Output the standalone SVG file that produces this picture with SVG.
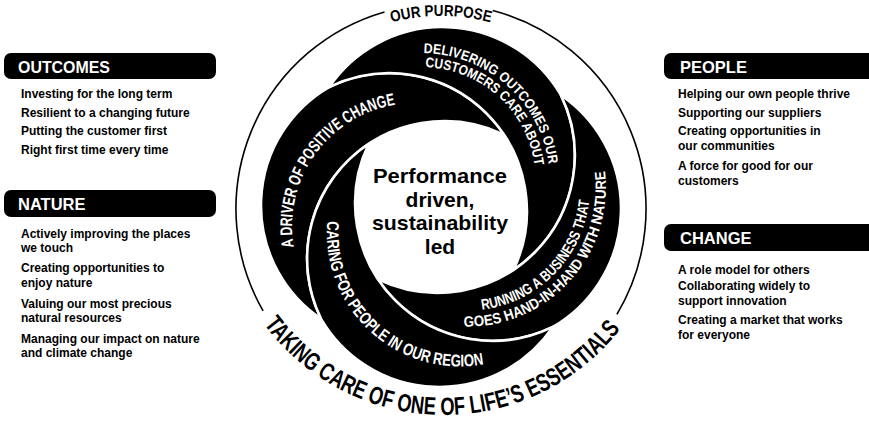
<svg xmlns="http://www.w3.org/2000/svg" xmlns:xlink="http://www.w3.org/1999/xlink" width="869" height="421" viewBox="0 0 869 421">
  <style>
    .arm { fill: #000; stroke: #fff; stroke-width: 2.6; stroke-linejoin: round; }
    .band { font-family: "Liberation Sans", Arial, sans-serif; font-weight: 700; fill: #fff; }
    .ring { fill: none; stroke: #000; stroke-width: 1.6; }
    .ringtext { font-family: "Liberation Sans", Arial, sans-serif; font-weight: 700; fill: #000; }
    .bar { fill: #000; }
    .head { font-family: "Liberation Sans", Arial, sans-serif; font-weight: 700; font-size: 16.5px; fill: #fff; }
    .item { font-family: "Liberation Sans", Arial, sans-serif; font-weight: 700; font-size: 12px; fill: #000; }
    .core { font-family: "Liberation Sans", Arial, sans-serif; font-weight: 700; font-size: 21px; fill: #000; text-anchor: middle; }
  </style>
  <defs>
    <!-- one swirl arm in local polar frame: tail on +x axis, head 174deg further clockwise -->
    <path id="arm-shape" d="M 164 0 A 137 137 0 0 1 0 164 A 137.5 137.5 0 0 1 -95.47 10.03 A 137.5 137.5 0 0 0 164 0 Z"/>
    <!-- baselines inside an arm (local frame) -->
    <path id="tp-change" d="M 136 69.3 A 122.8 122.8 0 0 1 -38.07 104.6"/>
    <path id="tp-outcomes-1" d="M 125.44 91.14 A 127.8 127.8 0 0 1 -43.25 107.04"/>
    <path id="tp-outcomes-2" d="M 114.01 82.84 A 113.8 113.8 0 0 1 -34.88 95.83"/>
    <path id="tp-nature-1" d="M -41.31 102.26 A 122.8 122.8 0 0 0 113.81 95.51"/>
    <path id="tp-nature-2" d="M -66.14 101.86 A 138.8 138.8 0 0 0 145.43 83.97"/>
    <path id="tp-people" d="M -68.65 91.1 A 133.3 133.3 0 0 0 145.39 74.08"/>
    <!-- outer ring captions -->
    <path id="tp-purpose" d="M 381.4 25.4 A 193 193 0 0 1 500.6 25.4"/>
    <path id="tp-essentials" d="M 262.8 322.7 A 224 224 0 0 0 621.7 327.4"/>
  </defs>

  <!-- outer ring with captions -->
  <g id="purpose-ring">
    <path class="ring" d="M 492.7 10.6 A 205 205 0 0 1 616.9 314.3"/>
    <path class="ring" d="M 263.1 310.9 A 205 205 0 0 1 384.5 11.9"/>
    <text class="ringtext" font-size="16"><textPath xlink:href="#tp-purpose" href="#tp-purpose" startOffset="50%" text-anchor="middle" textLength="100" lengthAdjust="spacingAndGlyphs">OUR PURPOSE</textPath></text>
    <text class="ringtext" font-size="25"><textPath xlink:href="#tp-essentials" href="#tp-essentials" startOffset="50%" text-anchor="middle" textLength="412" lengthAdjust="spacingAndGlyphs">TAKING CARE OF ONE OF LIFE’S ESSENTIALS</textPath></text>
  </g>

  <!-- four swirl arms around the core -->
  <g id="swirl" transform="translate(441 207)">
    <g id="arm-positive-change" transform="rotate(137)">
      <use xlink:href="#arm-shape" href="#arm-shape" class="arm"/>
      <text class="band" font-size="17"><textPath xlink:href="#tp-change" href="#tp-change" startOffset="50%" text-anchor="middle" textLength="194" lengthAdjust="spacingAndGlyphs">A DRIVER OF POSITIVE CHANGE</textPath></text>
    </g>
    <g id="arm-outcomes" transform="rotate(227)">
      <use xlink:href="#arm-shape" href="#arm-shape" class="arm"/>
      <text class="band" font-size="14"><textPath xlink:href="#tp-outcomes-1" href="#tp-outcomes-1" startOffset="50%" text-anchor="middle" textLength="182" lengthAdjust="spacingAndGlyphs">DELIVERING OUTCOMES OUR</textPath></text>
      <text class="band" font-size="14"><textPath xlink:href="#tp-outcomes-2" href="#tp-outcomes-2" startOffset="50%" text-anchor="middle" textLength="160" lengthAdjust="spacingAndGlyphs">CUSTOMERS CARE ABOUT</textPath></text>
    </g>
    <g id="arm-nature" transform="rotate(317)">
      <use xlink:href="#arm-shape" href="#arm-shape" class="arm"/>
      <text class="band" font-size="15"><textPath xlink:href="#tp-nature-1" href="#tp-nature-1" startOffset="50%" text-anchor="middle" textLength="165" lengthAdjust="spacingAndGlyphs">RUNNING A BUSINESS THAT</textPath></text>
      <text class="band" font-size="15"><textPath xlink:href="#tp-nature-2" href="#tp-nature-2" startOffset="50%" text-anchor="middle" textLength="238" lengthAdjust="spacingAndGlyphs">GOES HAND-IN-HAND WITH NATURE</textPath></text>
    </g>
    <g id="arm-people" transform="rotate(47)">
      <use xlink:href="#arm-shape" href="#arm-shape" class="arm"/>
      <text class="band" font-size="17"><textPath xlink:href="#tp-people" href="#tp-people" startOffset="50%" text-anchor="middle" textLength="245" lengthAdjust="spacingAndGlyphs">CARING FOR PEOPLE IN OUR REGION</textPath></text>
    </g>
  </g>

  <!-- core statement -->
  <g id="core">
    <text class="core" x="440" y="183" textLength="134" lengthAdjust="spacingAndGlyphs">Performance</text>
    <text class="core" x="440" y="206.5">driven,</text>
    <text class="core" x="440" y="230" textLength="136" lengthAdjust="spacingAndGlyphs">sustainability</text>
    <text class="core" x="440" y="253.5">led</text>
  </g>

  <!-- left column -->
  <g id="panel-outcomes">
    <rect class="bar" x="4" y="53" width="212" height="26" rx="7"/>
    <text class="head" x="18" y="73" textLength="92" lengthAdjust="spacingAndGlyphs">OUTCOMES</text>
    <text class="item" x="21" y="98">Investing for the long term</text>
    <text class="item" x="21" y="116.5">Resilient to a changing future</text>
    <text class="item" x="21" y="135">Putting the customer first</text>
    <text class="item" x="21" y="153.5">Right first time every time</text>
  </g>
  <g id="panel-nature">
    <rect class="bar" x="4" y="190" width="212" height="27" rx="7"/>
    <text class="head" x="18" y="210">NATURE</text>
    <text class="item" x="21" y="238">Actively improving the places</text>
    <text class="item" x="21" y="252">we touch</text>
    <text class="item" x="21" y="272">Creating opportunities to</text>
    <text class="item" x="21" y="287">enjoy nature</text>
    <text class="item" x="21" y="308">Valuing our most precious</text>
    <text class="item" x="21" y="322">natural resources</text>
    <text class="item" x="21" y="342.5">Managing our impact on nature</text>
    <text class="item" x="21" y="357">and climate change</text>
  </g>

  <!-- right column -->
  <g id="panel-people">
    <rect class="bar" x="664" y="53" width="212" height="26" rx="7"/>
    <text class="head" x="680" y="73">PEOPLE</text>
    <text class="item" x="678" y="98">Helping our own people thrive</text>
    <text class="item" x="678" y="116.5">Supporting our suppliers</text>
    <text class="item" x="678" y="135">Creating opportunities in</text>
    <text class="item" x="678" y="149.5">our communities</text>
    <text class="item" x="678" y="170">A force for good for our</text>
    <text class="item" x="678" y="184.5">customers</text>
  </g>
  <g id="panel-change">
    <rect class="bar" x="664" y="224" width="212" height="27" rx="7"/>
    <text class="head" x="680" y="244">CHANGE</text>
    <text class="item" x="678" y="274">A role model for others</text>
    <text class="item" x="678" y="290">Collaborating widely to</text>
    <text class="item" x="678" y="304.5">support innovation</text>
    <text class="item" x="678" y="324">Creating a market that works</text>
    <text class="item" x="678" y="338.5">for everyone</text>
  </g>
</svg>
